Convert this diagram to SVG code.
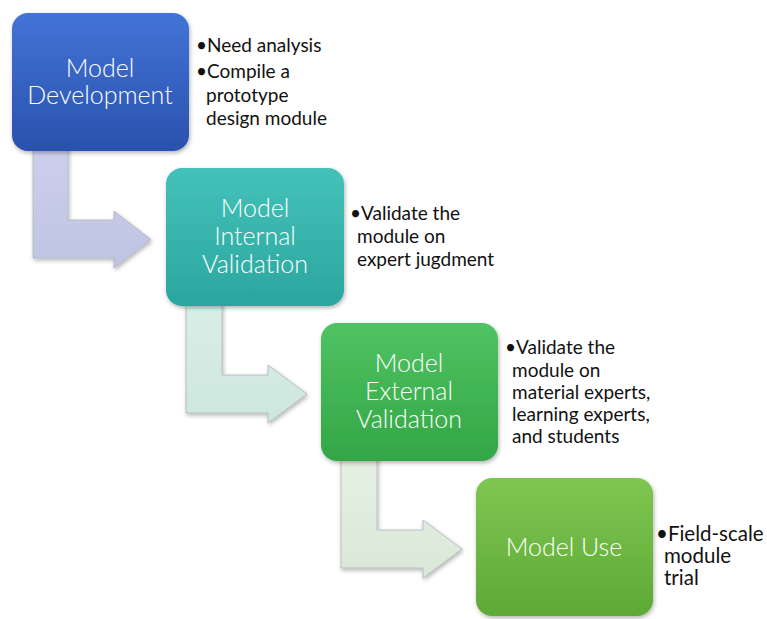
<svg xmlns="http://www.w3.org/2000/svg" width="767" height="619" viewBox="0 0 767 619">
<style>
.lbl{font-family:Lato,"Open Sans",sans-serif;font-size:25px;font-weight:300;fill:#ffffff;text-anchor:middle}
.txt{font-family:Lato,"Open Sans",sans-serif;font-size:19px;fill:#111111}
.big{font-size:20.5px}
.arr{stroke:#b0b4c0;stroke-width:0.8;filter:url(#sh)}
.box{filter:url(#sh)}
</style>
<defs>
<filter id="sh" x="-10%" y="-10%" width="125%" height="125%">
<feDropShadow dx="1" dy="2" stdDeviation="2" flood-color="#000" flood-opacity="0.3"/>
</filter>
<linearGradient id="g1" x1="0" y1="0" x2="0" y2="1"><stop offset="0" stop-color="#4274d6"/><stop offset="1" stop-color="#2a51ad"/></linearGradient>
<linearGradient id="g2" x1="0" y1="0" x2="0" y2="1"><stop offset="0" stop-color="#44c2b9"/><stop offset="1" stop-color="#2aa69e"/></linearGradient>
<linearGradient id="g3" x1="0" y1="0" x2="0" y2="1"><stop offset="0" stop-color="#50c262"/><stop offset="1" stop-color="#33a646"/></linearGradient>
<linearGradient id="g4" x1="0" y1="0" x2="0" y2="1"><stop offset="0" stop-color="#7ec650"/><stop offset="1" stop-color="#5ea936"/></linearGradient>
<linearGradient id="a1" x1="0" y1="0" x2="0" y2="1"><stop offset="0" stop-color="#ccd0ec"/><stop offset="1" stop-color="#bfc4e2"/></linearGradient>
<linearGradient id="a2" x1="0" y1="0" x2="0" y2="1"><stop offset="0" stop-color="#d8efe8"/><stop offset="1" stop-color="#cde6de"/></linearGradient>
<linearGradient id="a3" x1="0" y1="0" x2="0" y2="1"><stop offset="0" stop-color="#e6f1e4"/><stop offset="1" stop-color="#dae8d8"/></linearGradient>
</defs>
<rect width="767" height="619" fill="#ffffff"/>
<g id="connectors">
<polygon class="arr" fill="url(#a1)" points="33,145 68,145 68,220 114,220 114,211 151,239.5 114,268 114,258 33,258"/>
<polygon class="arr" fill="url(#a2)" points="186,300 222,300 222,375 268,375 268,365 307,394 268,423 268,413 186,413"/>
<polygon class="arr" fill="url(#a3)" points="341,455 377,455 377,530 423,530 423,520 462,549 423,578 423,568 341,568"/>
</g>
<g id="node1">
<rect class="box" x="12" y="13" width="177" height="138" rx="16" fill="url(#g1)"/>
<text class="lbl" x="100" y="77">Model</text>
<text class="lbl" x="100" y="104">Development</text>
<text class="txt" x="196" y="52">•Need analysis</text>
<text class="txt" x="196" y="78">•Compile a</text>
<text class="txt" x="206" y="102">prototype</text>
<text class="txt" x="206" y="125">design module</text>
</g>
<g id="node2">
<rect class="box" x="166" y="168" width="178" height="138" rx="16" fill="url(#g2)"/>
<text class="lbl" x="255" y="217">Model</text>
<text class="lbl" x="255" y="245">Internal</text>
<text class="lbl" x="255" y="273">Validation</text>
<text class="txt" x="350" y="220">•Validate the</text>
<text class="txt" x="357" y="243">module on</text>
<text class="txt" x="357" y="266">expert jugdment</text>
</g>
<g id="node3">
<rect class="box" x="321" y="323" width="177" height="138" rx="16" fill="url(#g3)"/>
<text class="lbl" x="409" y="372">Model</text>
<text class="lbl" x="409" y="400">External</text>
<text class="lbl" x="409" y="428">Validation</text>
<text class="txt" x="505" y="354">•Validate the</text>
<text class="txt" x="512" y="377">module on</text>
<text class="txt" x="512" y="399">material experts,</text>
<text class="txt" x="512" y="421">learning experts,</text>
<text class="txt" x="512" y="443">and students</text>
</g>
<g id="node4">
<rect class="box" x="476" y="478" width="177" height="138" rx="16" fill="url(#g4)"/>
<text class="lbl" x="564" y="556">Model Use</text>
<text class="txt big" x="656" y="541">•Field-scale</text>
<text class="txt big" x="664" y="563">module</text>
<text class="txt big" x="664" y="585">trial</text>
</g>
</svg>
